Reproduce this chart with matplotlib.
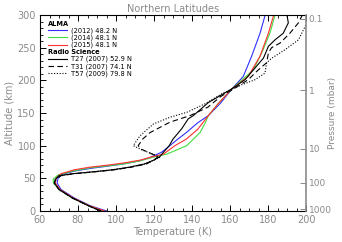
import numpy as np
import matplotlib
matplotlib.use('Agg')
import matplotlib.pyplot as plt
from matplotlib.ticker import MultipleLocator

# ALMA profiles (temperature K, altitude km)
alma12_alt = [0, 8, 20, 33, 43, 50, 56, 61, 65, 68, 71.5, 76.5, 82, 90, 100, 110, 120, 135, 146, 165, 187, 206, 237, 272, 303]
alma12_T = [95, 86.5, 78, 71, 69, 69.5, 71.5, 78, 86, 94, 103, 112, 118, 124, 128.4, 132.5, 137, 143, 148.6, 155, 161, 167, 171.4, 175.8, 178.8]

alma14_alt = [0, 8, 20, 33, 43, 49, 55, 61, 66, 69, 72, 77, 82, 87, 100, 120, 135, 146, 165, 187, 216, 242, 272, 303]
alma14_T = [93, 86, 77, 70, 67, 67, 69.5, 77, 86, 95, 104, 113, 119, 126.7, 137.2, 144.2, 147, 148.6, 154, 161, 172.3, 176.7, 181, 184]

alma15_alt = [0, 8, 20, 33, 43, 50, 57, 63, 67, 70, 73.5, 78, 83, 87, 100, 110, 125, 146, 165, 187, 206, 237, 272, 303]
alma15_T = [94, 86, 77.5, 70.5, 68, 68.5, 71, 78, 86, 95, 104, 113, 119, 124.9, 131, 137, 143, 148.6, 154, 161, 169.6, 175.8, 180.2, 183.3]

# Radio science profiles
t27_alt = [0, 8, 20, 33, 43, 48, 54, 57, 60, 63, 67, 72, 78, 83, 90, 100, 110, 126, 141, 146, 166, 187, 201, 219, 234, 252, 262, 272, 288, 303]
t27_T = [92, 85.5, 77, 70, 67.5, 68, 70, 77, 88, 98, 107, 115, 120, 123, 125, 128, 130, 134.6, 138, 140.7, 148.6, 161, 167.9, 173.2, 177.6, 180.2, 183.7, 188, 190.7, 189.8]

t31_alt = [0, 8, 20, 33, 43, 48, 54, 57, 60, 63, 67, 72, 78, 83, 90, 95, 100, 110, 120, 136, 146, 159, 175, 187, 201, 216, 227, 242, 250, 257, 272, 288, 303]
t31_T = [92, 85.5, 77, 70, 67.5, 68.5, 71, 78, 89, 99, 108, 116, 120, 122, 117, 113, 111.7, 114, 117.9, 128.4, 139, 148.4, 155, 162, 169.6, 174.9, 179.3, 180.2, 181.9, 186.3, 191.5, 196, 198.6]

t57_alt = [0, 8, 20, 33, 43, 48, 54, 57, 60, 63, 67, 72, 78, 82, 87, 93, 100, 115, 133, 143.5, 151, 164, 180, 193, 201, 211, 227, 234, 247, 262, 288, 300]
t57_T = [92, 85.5, 77, 70, 67.5, 68, 70, 77, 88, 98, 107, 115, 120, 123, 119.6, 114, 109.1, 112.6, 119.6, 128.4, 137.2, 146.8, 156, 166, 173.2, 178.4, 179.3, 182, 189, 196, 200.5, 203]

p_alt = [294, 185, 95, 43, 3]
p_labels = ['0.1', '1', '10', '100', '1000']

grey = '#8a8a8a'
fs = 7

fig = plt.figure(figsize=(3.42, 2.42), dpi=100)
ax = fig.add_axes([40/342, 31/242, 266/342, 196/242])

l1, = ax.plot(alma12_T, alma12_alt, color='#3030ff', lw=0.8)
l2, = ax.plot(alma14_T, alma14_alt, color='#40e040', lw=0.8)
l3, = ax.plot(alma15_T, alma15_alt, color='#ff3030', lw=0.8)
r1, = ax.plot(t27_T, t27_alt, color='black', lw=0.8)
r2, = ax.plot(t31_T, t31_alt, color='black', lw=0.8, ls=(0, (5, 3)))
r3, = ax.plot(t57_T, t57_alt, color='black', lw=0.8, ls=(0, (1, 1.5)))

ax.set_xlim(60, 200)
ax.set_ylim(0, 300)
ax.xaxis.set_major_locator(MultipleLocator(20))
ax.xaxis.set_minor_locator(MultipleLocator(5))
ax.yaxis.set_major_locator(MultipleLocator(50))
ax.yaxis.set_minor_locator(MultipleLocator(10))
ax.tick_params(which='both', direction='in', top=True, right=False,
               labelsize=fs, labelcolor=grey, pad=3)
ax.tick_params(which='major', length=4, width=0.7)
ax.tick_params(which='minor', length=2, width=0.6)
ax.set_xlabel('Temperature (K)', fontsize=fs, color=grey, labelpad=1)
ax.set_ylabel('Altitude (km)', fontsize=fs, color=grey, labelpad=2)
ax.set_title('Northern Latitudes', fontsize=fs, color=grey, pad=2)
ax.spines['right'].set_visible(False)

ax2 = ax.twinx()
ax2.set_ylim(0, 300)
ax2.set_yticks(p_alt, p_labels)
ax2.tick_params(direction='in', length=4, width=0.7, color=grey,
                labelsize=fs - 0.5, labelcolor=grey, pad=2)
ax2.spines['right'].set_color(grey)
ax2.spines['right'].set_linewidth(1.2)
for s in ['left', 'top', 'bottom']:
    ax2.spines[s].set_visible(False)
ax2.set_ylabel('Pressure (mbar)', fontsize=fs - 0.5, color=grey, rotation=90,
               va='center', ha='center')
ax2.yaxis.set_label_coords(1.1, 0.5)

leg_kw = dict(frameon=False, fontsize=4.8, handlelength=2.8, handletextpad=0.7,
              labelspacing=0.1, borderpad=0, borderaxespad=0, alignment='left',
              title_fontproperties={'size': 4.8, 'weight': 'bold'})
leg1 = ax.legend([l1, l2, l3], ['(2012) 48.2 N', '(2014) 48.1 N', '(2015) 48.1 N'],
                 title='ALMA', loc='upper left', bbox_to_anchor=(0.03, 0.97), **leg_kw)
ax.add_artist(leg1)
ax.legend([r1, r2, r3], ['T27 (2007) 52.9 N', 'T31 (2007) 74.1 N', 'T57 (2009) 79.8 N'],
          title='Radio Science', loc='upper left', bbox_to_anchor=(0.03, 0.825), **leg_kw)

fig.savefig('out.png', dpi=100)
